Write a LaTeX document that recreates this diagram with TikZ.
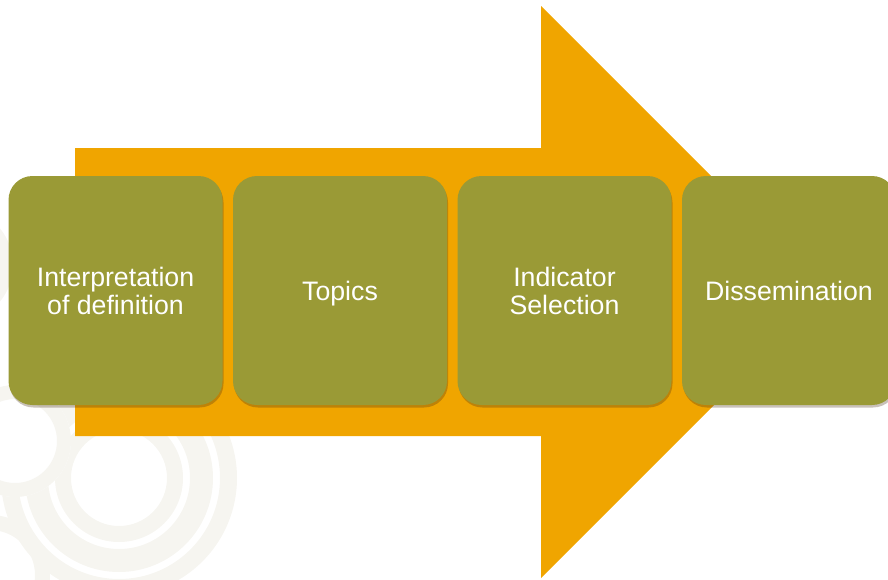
\documentclass[tikz,border=0pt]{standalone}
\usepackage{fontspec}
\setmainfont{Liberation Sans}
\usetikzlibrary{shadows}
\definecolor{arroworange}{HTML}{F0A500}
\definecolor{boxolive}{HTML}{9A9A36}
\definecolor{ringgray}{HTML}{F6F5F0}
\tikzset{
  stagebox/.style={fill=boxolive, draw=none, rounded corners=24pt,
    minimum width=214pt, minimum height=229pt, inner sep=0pt,
    text=white, align=center, font=\fontsize{26.7}{28}\selectfont,
    drop shadow={shadow xshift=1pt, shadow yshift=-2.5pt, opacity=0.3, fill=black!60!brown}},
  ring/.style={fill=ringgray, even odd rule, draw=none}
}
\begin{document}
\begin{tikzpicture}[x=1pt,y=-1pt]
\useasboundingbox (0,0) rectangle (888,579);
\clip (0,0) rectangle (888,579);
% faint decorative rings
\fill[ring] (119,478) circle (64) (119,478) circle (48);
\fill[ring] (119,478) circle (94) (119,478) circle (71);
\fill[ring] (119,478) circle (118) (119,478) circle (101);
\fill[white] (15,441) circle (56);
\fill[ring] (15,441) circle (56) (15,441) circle (42);
\fill[ring] (-10,575) circle (60) (-10,575) circle (45);
\fill[ring] (-45,265) circle (58) (-45,265) circle (44);
% big arrow
\fill[arroworange] (75,148) -- (541,148) -- (541,6) -- (827,292) -- (541,578) -- (541,436) -- (75,436) -- cycle;
% stages
\node[stagebox] (b1) at (115.5,290.5) {Interpretation\\of definition};
\node[stagebox, text depth=0pt] (b2) at (340,290.5) {Topics};
\node[stagebox] (b3) at (564.5,290.5) {Indicator\\Selection};
\node[stagebox] (b4) at (789,290.5) {Dissemination};
\end{tikzpicture}
\end{document}
